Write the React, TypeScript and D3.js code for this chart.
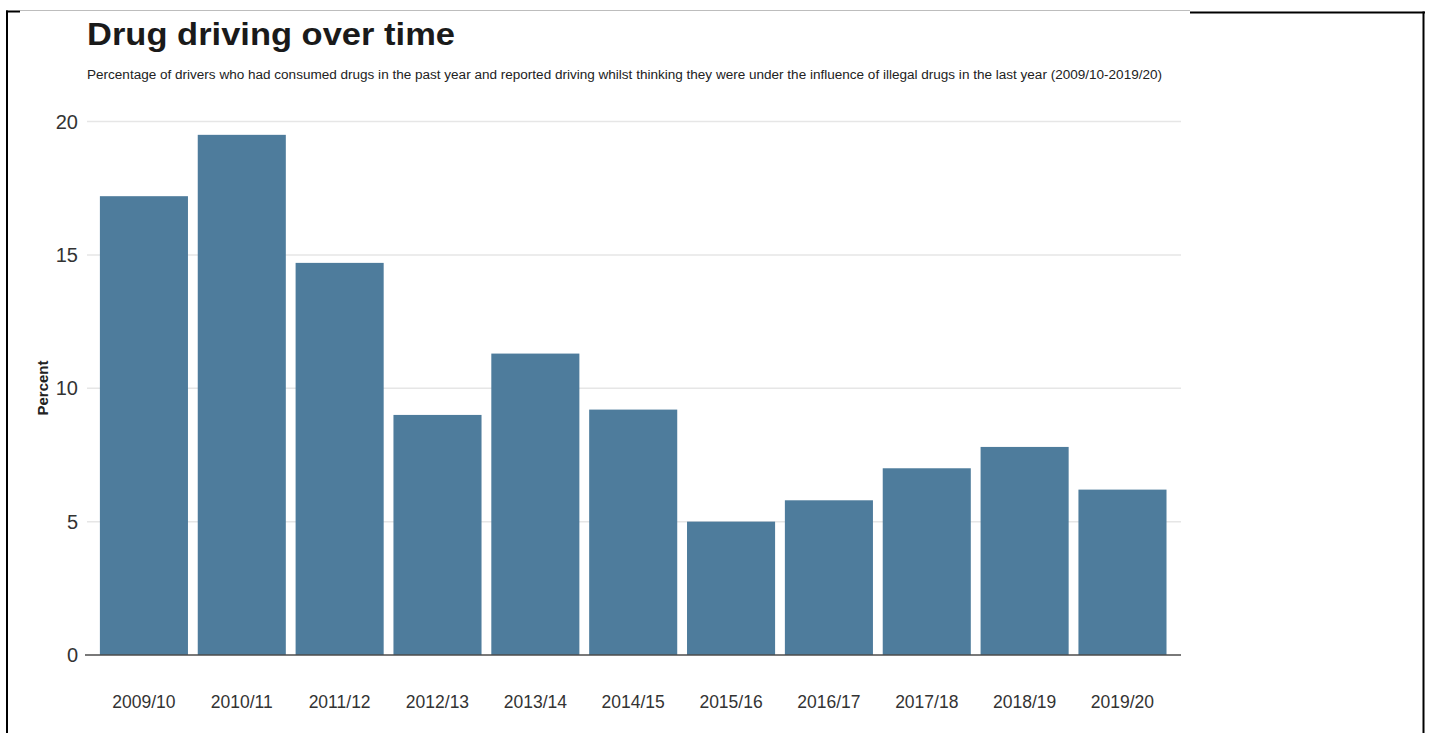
import React from "react";
import * as d3 from "d3";

const categories = [
  "2009/10", "2010/11", "2011/12", "2012/13", "2013/14", "2014/15",
  "2015/16", "2016/17", "2017/18", "2018/19", "2019/20",
];
const percentValues = [17.2, 19.5, 14.7, 9.0, 11.3, 9.2, 5.0, 5.8, 7.0, 7.8, 6.2];
const yTicks = [0, 5, 10, 15, 20];

const title = "Drug driving over time";
const subtitle =
  "Percentage of drivers who had consumed drugs in the past year and reported driving whilst thinking they were under the influence of illegal drugs in the last year (2009/10-2019/20)";
const yAxisTitle = "Percent";

const W = 1429;
const H = 733;
const FONT = "'Liberation Sans', Arial, Helvetica, sans-serif";

export default function App() {
  const x = d3
    .scaleBand<string>()
    .domain(categories)
    .range([95, 1171.4])
    .paddingInner(0.1)
    .paddingOuter(0.05);
  const y = d3.scaleLinear().domain([0, 20]).range([655, 121.5]);

  const panelLeft = 87;
  const panelRight = 1181;

  return (
    <svg
      width={W}
      height={H}
      style={{ position: "absolute", left: 0, top: 0, background: "#fff" }}
      fontFamily={FONT}
    >
      <rect x={0} y={0} width={W} height={H} fill="#fff" />
      {/* frame */}
      <line x1={20} x2={1190} y1={10.5} y2={10.5} stroke="#bdbdbd" strokeWidth={1} />
      <line x1={6} x2={20} y1={11.5} y2={11.5} stroke="#000" strokeWidth={2} />
      <line x1={1190} x2={1425} y1={12.5} y2={12.5} stroke="#000" strokeWidth={2} />
      <line x1={7} x2={7} y1={10.5} y2={H} stroke="#000" strokeWidth={2} />
      <line x1={1423.5} x2={1423.5} y1={11.5} y2={H} stroke="#000" strokeWidth={2} />

      {/* titles */}
      <text x={87} y={45} fontSize={31} fontWeight="bold" fill="#1a1a1a" textLength={368} lengthAdjust="spacingAndGlyphs">
        {title}
      </text>
      <text x={87} y={79} fontSize={12.5} fill="#222" textLength={1075} lengthAdjust="spacingAndGlyphs">
        {subtitle}
      </text>

      {/* gridlines */}
      {yTicks
        .filter((t) => t !== 0)
        .map((t) => (
          <line
            key={"g" + t}
            x1={panelLeft}
            x2={panelRight}
            y1={y(t)}
            y2={y(t)}
            stroke="#e6e6e6"
            strokeWidth={1.5}
          />
        ))}

      {/* bars */}
      {categories.map((c, i) => (
        <rect
          key={c}
          x={x(c)}
          y={y(percentValues[i])}
          width={x.bandwidth()}
          height={y(0) - y(percentValues[i])}
          fill="#4e7c9c"
        />
      ))}

      {/* baseline */}
      <line x1={85} x2={panelRight} y1={y(0)} y2={y(0)} stroke="#4d4d4d" strokeWidth={1.5} />

      {/* y tick labels */}
      {yTicks.map((t) => (
        <text
          key={"t" + t}
          x={78}
          y={y(t)}
          dy="0.36em"
          fontSize={20}
          textAnchor="end"
          fill="#333"
        >
          {t}
        </text>
      ))}

      {/* x labels */}
      {categories.map((c) => (
        <text
          key={"x" + c}
          x={(x(c) ?? 0) + x.bandwidth() / 2}
          y={708}
          fontSize={17.5}
          textAnchor="middle"
          fill="#333"
        >
          {c}
        </text>
      ))}

      {/* y axis title */}
      <text
        transform={`translate(48, 388) rotate(-90)`}
        fontSize={15}
        fontWeight="bold"
        textAnchor="middle"
        fill="#222"
      >
        {yAxisTitle}
      </text>
    </svg>
  );
}
